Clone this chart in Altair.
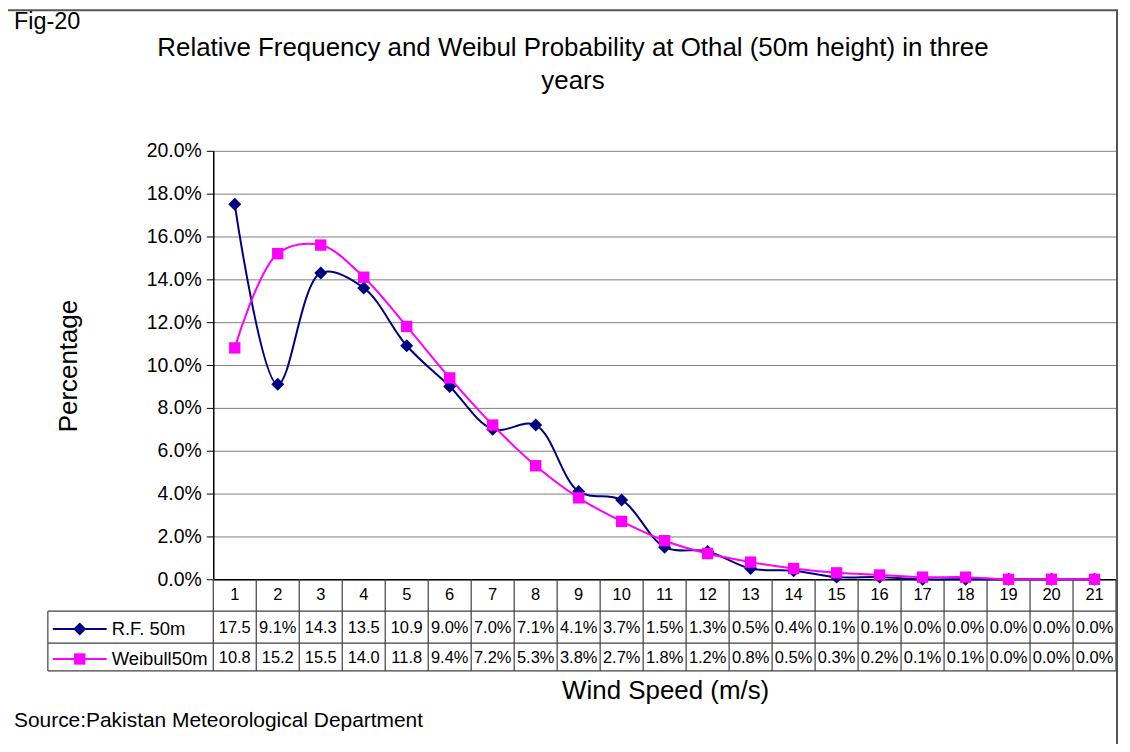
import altair as alt
import pandas as pd

speeds = list(range(1, 22))
rf_50m = [17.5, 9.1, 14.3, 13.6, 10.9, 9.0, 7.0, 7.2, 4.1, 3.7, 1.5, 1.3, 0.5, 0.4, 0.1, 0.1, 0.0, 0.0, 0.0, 0.0, 0.0]
rf_table = [17.5, 9.1, 14.3, 13.5, 10.9, 9.0, 7.0, 7.1, 4.1, 3.7, 1.5, 1.3, 0.5, 0.4, 0.1, 0.1, 0.0, 0.0, 0.0, 0.0, 0.0]
weibull_50m = [10.8, 15.2, 15.6, 14.1, 11.8, 9.4, 7.2, 5.3, 3.8, 2.7, 1.8, 1.2, 0.8, 0.5, 0.3, 0.2, 0.1, 0.1, 0.0, 0.0, 0.0]
weibull_table = [10.8, 15.2, 15.5, 14.0, 11.8, 9.4, 7.2, 5.3, 3.8, 2.7, 1.8, 1.2, 0.8, 0.5, 0.3, 0.2, 0.1, 0.1, 0.0, 0.0, 0.0]
y_ticks = [0.0, 0.02, 0.04, 0.06, 0.08, 0.10, 0.12, 0.14, 0.16, 0.18, 0.20]

title_lines = ["Relative Frequency and Weibul Probability at Othal (50m height) in three", "years"]
fig_label = "Fig-20"
y_title = "Percentage"
x_title = "Wind Speed (m/s)"
source = "Source:Pakistan Meteorological Department"
series_names = ["R.F. 50m", "Weibull50m"]

W, H = 906, 430
FONT = "Liberation Sans"
NAVY = "#000080"
MAGENTA = "#FF00FF"
LINE = "#404040"


def cell(v):
    return f"{v:.1f}" + ("%" if v < 10 else "")


df = pd.DataFrame({
    "speed": speeds,
    "rf": [v / 100 for v in rf_50m],
    "wb": [v / 100 for v in weibull_50m],
    "rf_lbl": [cell(v) for v in rf_table],
    "wb_lbl": [cell(v) for v in weibull_table],
    "sp_lbl": [str(s) for s in speeds],
})
bounds = pd.DataFrame({"b": [s - 0.5 for s in speeds] + [speeds[-1] + 0.5]})
one = pd.DataFrame({"k": [0]})

xs = alt.Scale(domain=[0.5, 21.5], nice=False, zero=False)
ys = alt.Scale(domain=[0, 0.2], nice=False)

base = alt.Chart(df)

grid = base.mark_line(opacity=0).encode(
    x=alt.X("speed:Q", scale=xs, axis=alt.Axis(labels=False, ticks=False, grid=False, title=None,
                                                domainColor="black", domainWidth=1.5)),
    y=alt.Y("rf:Q", scale=ys, axis=alt.Axis(values=y_ticks, format=".1%", title=None, grid=True,
                                             gridColor="#808080", gridWidth=1, domainColor="black",
                                             domainWidth=1.5, tickColor="black", tickSize=7,
                                             labelFontSize=19.5, labelFont=FONT, labelColor="black",
                                             labelPadding=5)),
)

rf_line = base.mark_line(color=NAVY, strokeWidth=2, interpolate="catmull-rom").encode(
    x=alt.X("speed:Q", scale=xs), y=alt.Y("rf:Q", scale=ys))
rf_pts = base.mark_point(shape="diamond", filled=True, color=NAVY, size=170, opacity=1).encode(
    x=alt.X("speed:Q", scale=xs), y=alt.Y("rf:Q", scale=ys))
wb_line = base.mark_line(color=MAGENTA, strokeWidth=2, interpolate="catmull-rom").encode(
    x=alt.X("speed:Q", scale=xs), y=alt.Y("wb:Q", scale=ys))
wb_pts = base.mark_point(shape="square", filled=True, color=MAGENTA, size=130, opacity=1).encode(
    x=alt.X("speed:Q", scale=xs), y=alt.Y("wb:Q", scale=ys))

# data table
vlines = alt.Chart(bounds).mark_rule(color=LINE, strokeWidth=1.2).encode(
    x=alt.X("b:Q", scale=xs), y=alt.value(H), y2=alt.value(522))
hlines = alt.Chart(pd.DataFrame({"yy": [462, 494, 522]})).mark_rule(color=LINE, strokeWidth=1.2).encode(
    x=alt.value(-166), x2=alt.value(W), y=alt.Y("yy:Q", scale=None))
leftline = alt.Chart(one).mark_rule(color=LINE, strokeWidth=1.2).encode(
    x=alt.value(-166), y=alt.value(462), y2=alt.value(522))

txt = dict(font=FONT, fontSize=16.5, color="black", baseline="middle", align="center")
sp_text = base.mark_text(**txt).encode(x=alt.X("speed:Q", scale=xs), y=alt.value(446), text="sp_lbl:N")
rf_text = base.mark_text(**txt).encode(x=alt.X("speed:Q", scale=xs), y=alt.value(479), text="rf_lbl:N")
wb_text = base.mark_text(**txt).encode(x=alt.X("speed:Q", scale=xs), y=alt.value(509), text="wb_lbl:N")

# legend inside table
leg_rf_line = alt.Chart(one).mark_rule(color=NAVY, strokeWidth=2).encode(
    x=alt.value(-161), x2=alt.value(-107), y=alt.value(480))
leg_rf_pt = alt.Chart(one).mark_point(shape="diamond", filled=True, color=NAVY, size=170, opacity=1).encode(
    x=alt.value(-134), y=alt.value(480))
leg_wb_line = alt.Chart(one).mark_rule(color=MAGENTA, strokeWidth=2).encode(
    x=alt.value(-161), x2=alt.value(-107), y=alt.value(510))
leg_wb_pt = alt.Chart(one).mark_point(shape="square", filled=True, color=MAGENTA, size=130, opacity=1).encode(
    x=alt.value(-134), y=alt.value(510))
leg_text = alt.Chart(pd.DataFrame({"t": series_names, "yy": [480, 510]})).mark_text(
    font=FONT, fontSize=18.5, color="black", align="left", baseline="middle").encode(
    x=alt.value(-102), y=alt.Y("yy:Q", scale=None), text="t:N")

# titles and labels
def label(text, x, y, size, align="center", angle=0):
    return alt.Chart(pd.DataFrame({"t": [text]})).mark_text(
        font=FONT, fontSize=size, color="black", align=align, baseline="middle", angle=angle
    ).encode(x=alt.value(x), y=alt.value(y), text="t:N")

t1 = label(title_lines[0], 361, -103, 26)
t2 = label(title_lines[1], 361, -70, 26)
fig = label(fig_label, -200, -129, 23.5, align="left")
ytitle = label(y_title, -145, 216, 26, angle=270)
xtitle = label(x_title, 454, 542, 26)
src = label(source, -200, 572, 21, align="left")

border = alt.Chart(one).mark_rect(fill=None, stroke="#555555", strokeWidth=2).encode(
    x=alt.value(-207), x2=alt.value(907), y=alt.value(-141), y2=alt.value(640))

chart = alt.layer(
    grid, vlines, hlines, leftline, rf_line, rf_pts, wb_line, wb_pts,
    sp_text, rf_text, wb_text, leg_rf_line, leg_rf_pt, leg_wb_line, leg_wb_pt, leg_text,
    t1, t2, fig, ytitle, xtitle, src, border,
).properties(
    width=W, height=H,
    autosize=alt.AutoSizeParams(type="none"),
    padding={"left": 206, "top": 142, "right": 6, "bottom": 164},
    background="white",
).configure_view(stroke=None)

chart.save("out.html", embed_options={"renderer": "svg", "actions": False})
